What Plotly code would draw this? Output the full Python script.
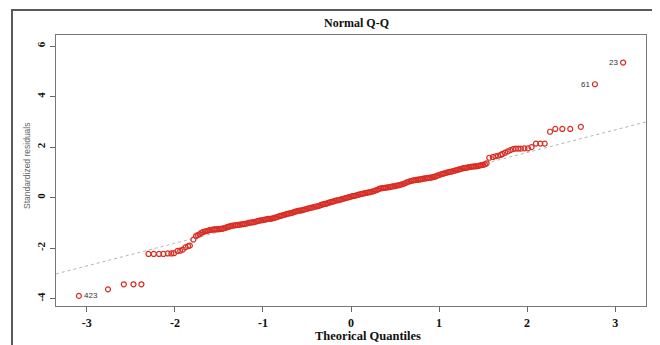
import plotly.graph_objects as go

# ---- data ----
theoretical_q = [
    -3.09, -2.76, -2.58, -2.47, -2.38, -2.30, -2.24, -2.18, -2.13, -2.08,
    -2.04, -2.01, -1.97, -1.94, -1.91, -1.88, -1.85, -1.83, -1.79, -1.76,
    -1.74, -1.72, -1.70, -1.68, -1.66, -1.64, -1.62, -1.60, -1.58, -1.56,
    -1.54, -1.52, -1.50, -1.48, -1.46, -1.44, -1.42, -1.40, -1.38, -1.36,
    -1.34, -1.32, -1.30, -1.28, -1.26, -1.24, -1.22, -1.20, -1.18, -1.16,
    -1.14, -1.12, -1.10, -1.08, -1.06, -1.04, -1.02, -1.00, -0.98, -0.96,
    -0.94, -0.92, -0.90, -0.88, -0.86, -0.84, -0.82, -0.80, -0.78, -0.76,
    -0.74, -0.72, -0.70, -0.68, -0.66, -0.64, -0.62, -0.60, -0.58, -0.56,
    -0.54, -0.52, -0.50, -0.48, -0.46, -0.44, -0.42, -0.40, -0.38, -0.36,
    -0.34, -0.32, -0.30, -0.28, -0.26, -0.24, -0.22, -0.20, -0.18, -0.16,
    -0.14, -0.12, -0.10, -0.08, -0.06, -0.04, -0.02, 0.00, 0.02, 0.04,
    0.06, 0.08, 0.10, 0.12, 0.14, 0.16, 0.18, 0.20, 0.22, 0.24,
    0.26, 0.28, 0.30, 0.32, 0.34, 0.36, 0.38, 0.40, 0.42, 0.44,
    0.46, 0.48, 0.50, 0.52, 0.54, 0.56, 0.58, 0.60, 0.62, 0.64,
    0.66, 0.68, 0.70, 0.72, 0.74, 0.76, 0.78, 0.80, 0.82, 0.84,
    0.86, 0.88, 0.90, 0.92, 0.94, 0.96, 0.98, 1.00, 1.02, 1.04,
    1.06, 1.08, 1.10, 1.12, 1.14, 1.16, 1.18, 1.20, 1.22, 1.24,
    1.26, 1.28, 1.30, 1.32, 1.34, 1.36, 1.38, 1.40, 1.42, 1.44,
    1.46, 1.48, 1.50, 1.52, 1.54, 1.57, 1.61, 1.64, 1.67, 1.70,
    1.72, 1.75, 1.78, 1.81, 1.84, 1.87, 1.90, 1.93, 1.97, 2.01,
    2.05, 2.10, 2.15, 2.20, 2.26, 2.32, 2.40, 2.49, 2.61, 2.77,
    3.09,
]
standardized_residuals = [
    -3.89, -3.63, -3.43, -3.43, -3.43, -2.23, -2.23, -2.23, -2.23, -2.21,
    -2.21, -2.20, -2.11, -2.10, -2.06, -1.97, -1.92, -1.90, -1.66, -1.52,
    -1.48, -1.45, -1.39, -1.36, -1.34, -1.32, -1.30, -1.28, -1.27, -1.26,
    -1.26, -1.25, -1.25, -1.24, -1.23, -1.21, -1.19, -1.16, -1.14, -1.12,
    -1.11, -1.10, -1.09, -1.08, -1.07, -1.06, -1.05, -1.04, -1.02, -1.00,
    -0.99, -0.98, -0.97, -0.95, -0.93, -0.91, -0.90, -0.89, -0.87, -0.86,
    -0.84, -0.84, -0.83, -0.81, -0.79, -0.77, -0.74, -0.72, -0.70, -0.68,
    -0.66, -0.64, -0.62, -0.61, -0.59, -0.56, -0.54, -0.52, -0.51, -0.50,
    -0.48, -0.46, -0.44, -0.42, -0.40, -0.39, -0.37, -0.35, -0.34, -0.32,
    -0.29, -0.27, -0.25, -0.24, -0.21, -0.19, -0.17, -0.15, -0.13, -0.11,
    -0.10, -0.08, -0.06, -0.04, -0.02, 0.00, 0.02, 0.04, 0.06, 0.07,
    0.09, 0.11, 0.13, 0.15, 0.16, 0.18, 0.19, 0.21, 0.22, 0.24,
    0.26, 0.29, 0.31, 0.35, 0.37, 0.38, 0.39, 0.40, 0.41, 0.42,
    0.44, 0.45, 0.46, 0.48, 0.49, 0.51, 0.53, 0.55, 0.58, 0.62,
    0.64, 0.66, 0.68, 0.69, 0.70, 0.71, 0.72, 0.73, 0.75, 0.76,
    0.77, 0.78, 0.79, 0.80, 0.82, 0.84, 0.87, 0.89, 0.92, 0.94,
    0.96, 0.98, 1.00, 1.02, 1.03, 1.05, 1.07, 1.09, 1.11, 1.13,
    1.15, 1.17, 1.18, 1.19, 1.21, 1.22, 1.23, 1.24, 1.24, 1.25,
    1.27, 1.29, 1.30, 1.32, 1.36, 1.58, 1.61, 1.64, 1.66, 1.69,
    1.73, 1.78, 1.83, 1.88, 1.92, 1.94, 1.94, 1.94, 1.95, 1.95,
    2.00, 2.14, 2.14, 2.14, 2.61, 2.72, 2.72, 2.72, 2.80, 4.49,
    5.35,
]
# observation ids labelled on the plot, with the position (in the sorted data) of each
labelled_ids = ["423", "61", "23"]
labelled_pos = [0, len(theoretical_q) - 2, len(theoretical_q) - 1]

# reference (qq) line
qqline_intercept = -0.01
qqline_slope = 0.898

x_ticks = [-3, -2, -1, 0, 1, 2, 3]
y_ticks = [-4, -2, 0, 2, 4, 6]
x_range = [-3.35, 3.35]
y_range = [-4.29, 6.44]

# ---- figure ----
# the page body has an 8px margin, so the figure is drawn 8px smaller and
# all positions below are given in window pixels and shifted by OFF
OFF = 8
W, H = 660 - OFF, 345 - OFF
ML, MT = 56 - OFF, 35 - OFF
MR = W - (646 - OFF)
MB = H - (306 - OFF)
PW, PH = W - ML - MR, H - MT - MB


def px_x(px):
    return (px - OFF - ML) / PW


def px_y(py):
    return (H - MB - (py - OFF)) / PH


SERIF = "Liberation Serif, Times New Roman, serif"
SANS = "Liberation Sans, Arial, sans-serif"
RED = "#d82c22"

fig = go.Figure()

fig.add_trace(go.Scatter(
    x=x_range,
    y=[qqline_intercept + qqline_slope * v for v in x_range],
    mode="lines",
    line=dict(color="#ababab", width=0.9, dash="dot"),
    hoverinfo="skip",
    showlegend=False,
))

fig.add_trace(go.Scatter(
    x=theoretical_q,
    y=standardized_residuals,
    mode="markers",
    marker=dict(symbol="circle-open", size=5, color=RED,
                line=dict(width=1.2, color=RED)),
    showlegend=False,
))

annotations = []
for lab, pos in zip(labelled_ids, labelled_pos):
    xv, yv = theoretical_q[pos], standardized_residuals[pos]
    right = xv < 0
    annotations.append(dict(
        x=xv, y=yv, xref="x", yref="y", text=lab, showarrow=False,
        xanchor="left" if right else "right", yanchor="middle",
        xshift=3 if right else -3,
        font=dict(family=SANS, size=8, color="#333333"),
    ))

# title
annotations.append(dict(
    x=px_x(356), y=px_y(23), xref="paper", yref="paper", text="Normal Q-Q",
    showarrow=False, xanchor="center", yanchor="middle",
    font=dict(family=SERIF, size=12, color="#111111", weight="bold"),
))
# x axis title
annotations.append(dict(
    x=px_x(368), y=px_y(336), xref="paper", yref="paper", text="Theorical Quantiles",
    showarrow=False, xanchor="center", yanchor="middle",
    font=dict(family=SERIF, size=12.5, color="#111111", weight="bold"),
))
# y axis title
annotations.append(dict(
    x=px_x(27), y=px_y(166), xref="paper", yref="paper", text="Standardized residuals",
    showarrow=False, xanchor="center", yanchor="middle", textangle=-90,
    font=dict(family=SANS, size=8.5, color="#666666"),
))

fig.update_layout(
    width=W, height=H,
    margin=dict(l=ML, r=MR, t=MT, b=MB, pad=0),
    paper_bgcolor="white", plot_bgcolor="white",
    annotations=annotations,
    shapes=[dict(
        type="rect", xref="paper", yref="paper",
        x0=px_x(12), x1=px_x(658), y0=px_y(350), y1=px_y(10),
        line=dict(color="#5a5a5a", width=2), fillcolor="rgba(0,0,0,0)", layer="above",
    )],
)

fig.update_xaxes(
    range=x_range, tickvals=x_ticks, ticktext=[str(v) for v in x_ticks],
    ticks="outside", ticklen=5, tickwidth=1, tickcolor="#666666",
    showline=True, mirror=True, linecolor="#777777", linewidth=1.3,
    showgrid=False, zeroline=False,
    tickfont=dict(family=SERIF, size=12, color="#111111", weight="bold"),
)
fig.update_yaxes(
    range=y_range, tickvals=y_ticks, ticktext=[str(v) for v in y_ticks],
    ticks="outside", ticklen=5, tickwidth=1, tickcolor="#666666", tickangle=-90,
    showline=True, mirror=True, linecolor="#777777", linewidth=1.3,
    showgrid=False, zeroline=False,
    tickfont=dict(family=SERIF, size=11, color="#111111", weight="bold"),
)

fig.write_html("out.html")
